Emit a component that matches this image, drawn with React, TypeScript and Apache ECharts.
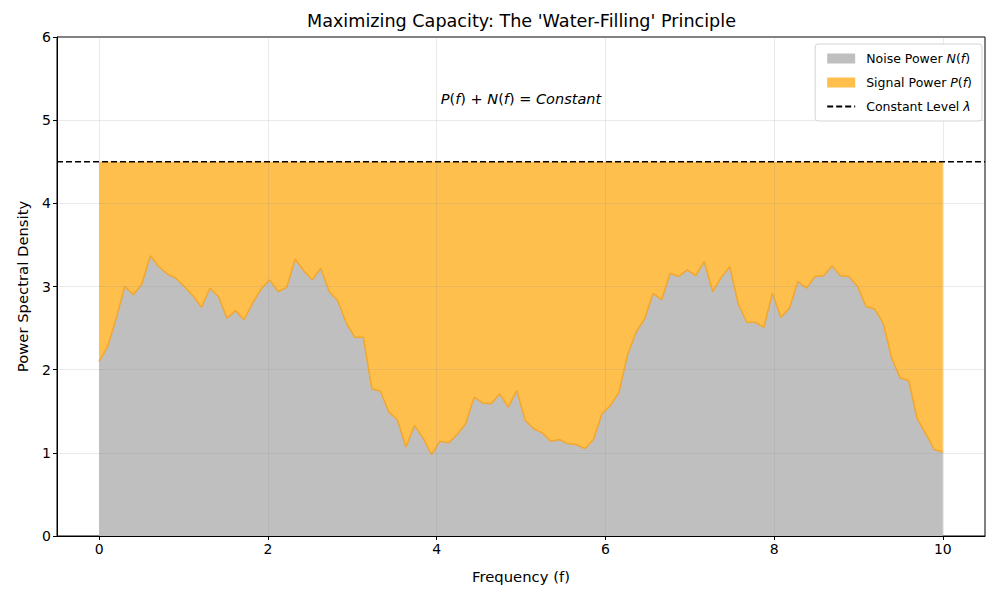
import { useEffect, useRef } from "react";
import * as echarts from "echarts";

// noise power spectral density, sampled at 100 evenly spaced frequencies on [0, 10]
const NOISE = [
  2.1, 2.28, 2.62, 3.0, 2.9, 3.03, 3.37, 3.24, 3.15, 3.1,
  3.0, 2.89, 2.75, 2.98, 2.88, 2.62, 2.71, 2.6, 2.8, 2.97,
  3.08, 2.94, 2.99, 3.33, 3.19, 3.08, 3.22, 2.94, 2.83, 2.56,
  2.39, 2.39, 1.77, 1.74, 1.49, 1.4, 1.07, 1.33, 1.18, 0.98,
  1.14, 1.12, 1.22, 1.35, 1.67, 1.6, 1.59, 1.71, 1.55, 1.75,
  1.39, 1.29, 1.24, 1.14, 1.16, 1.11, 1.1, 1.05, 1.16, 1.47,
  1.57, 1.73, 2.18, 2.45, 2.61, 2.92, 2.84, 3.16, 3.12, 3.2,
  3.13, 3.3, 2.94, 3.11, 3.24, 2.79, 2.57, 2.57, 2.51, 2.92,
  2.63, 2.74, 3.06, 2.98, 3.12, 3.13, 3.25, 3.13, 3.12, 3.0,
  2.76, 2.73, 2.56, 2.14, 1.9, 1.87, 1.41, 1.23, 1.04, 1.01,
];
const F_MAX = 10;
const FREQ = NOISE.map((_, i) => (i * F_MAX) / (NOISE.length - 1));
const LAMBDA = 4.5;
const X_TICKS = [0, 2, 4, 6, 8, 10];
const X_RANGE = [-0.5, 10.5];
const Y_RANGE = [0, 6];

const NOISE_NAME = "Noise Power N(f)";
const SIGNAL_NAME = "Signal Power P(f)";
const LAMBDA_NAME = "Constant Level λ";
const LEGEND_LABELS: Record<string, string> = {
  [NOISE_NAME]: "Noise Power {i|N}({i|f})",
  [SIGNAL_NAME]: "Signal Power {i|P}({i|f})",
  [LAMBDA_NAME]: "Constant Level {i|λ}",
};

const FONT = "'DejaVu Sans', sans-serif";
const GRAY_FILL = "#bfbfbf";
const ORANGE_FILL = "#ffbf4d";
const ORANGE_EDGE = "#f3a72c";
const GRID_LINE = "rgba(150,150,150,0.25)";

export default function App() {
  const ref = useRef<HTMLDivElement>(null);

  useEffect(() => {
    if (!ref.current) return;
    const chart = echarts.init(ref.current, null, { renderer: "svg" });
    const points = FREQ.map((f, i) => [f, NOISE[i]]);

    chart.setOption({
      animation: false,
      backgroundColor: "#fff",
      title: {
        text: "Maximizing Capacity: The 'Water-Filling' Principle",
        left: 307,
        top: 12,
        padding: 0,
        textStyle: { fontSize: 17.6, fontWeight: "normal", color: "#000", fontFamily: FONT },
      },
      grid: {
        left: 57,
        right: 15,
        top: 37,
        bottom: 64,
        show: true,
        borderColor: "#000",
        borderWidth: 1,
        backgroundColor: "transparent",
      },
      legend: {
        orient: "vertical",
        right: 18,
        top: 44,
        padding: [8, 10, 8, 11],
        itemWidth: 28,
        itemHeight: 10,
        itemGap: 11,
        borderColor: "#d4d4d4",
        borderWidth: 1,
        borderRadius: 3,
        backgroundColor: "#fff",
        data: [
          { name: NOISE_NAME, icon: "rect" },
          { name: SIGNAL_NAME, icon: "rect" },
          { name: LAMBDA_NAME, itemStyle: { opacity: 0 } },
        ],
        formatter: (name: string) => LEGEND_LABELS[name] ?? name,
        textStyle: {
          fontSize: 12.5,
          color: "#000",
          fontFamily: FONT,
          padding: [0, 0, 0, 6],
          rich: {
            i: { fontStyle: "italic", fontSize: 12.5, fontFamily: FONT, color: "#000" },
          },
        },
      },
      xAxis: {
        type: "value",
        min: X_RANGE[0],
        max: X_RANGE[1],
        splitNumber: 5,
        z: 3,
        name: "Frequency (f)",
        nameLocation: "middle",
        nameGap: 33,
        nameTextStyle: { fontSize: 14.8, color: "#000", fontFamily: FONT },
        axisLine: { onZero: false, lineStyle: { color: "#000", width: 1 } },
        axisTick: { customValues: X_TICKS, length: 4, lineStyle: { color: "#000" } },
        axisLabel: { customValues: X_TICKS, fontSize: 14, color: "#000", fontFamily: FONT, margin: 6 },
        splitLine: { show: true, lineStyle: { color: GRID_LINE, width: 0.8 } },
      },
      yAxis: {
        type: "value",
        min: Y_RANGE[0],
        max: Y_RANGE[1],
        interval: 1,
        z: 3,
        name: "Power Spectral Density",
        nameLocation: "middle",
        nameGap: 27,
        nameTextStyle: { fontSize: 14.8, color: "#000", fontFamily: FONT },
        axisLine: { show: true, onZero: false, lineStyle: { color: "#000", width: 1 } },
        axisTick: { show: true, length: 4, lineStyle: { color: "#000" } },
        axisLabel: { fontSize: 14, color: "#000", fontFamily: FONT, margin: 6 },
        splitLine: { show: true, lineStyle: { color: GRID_LINE, width: 0.8 } },
      },
      series: [
        {
          name: NOISE_NAME,
          type: "line",
          data: points,
          symbol: "none",
          z: 1,
          itemStyle: { color: GRAY_FILL },
          lineStyle: { width: 0.8, color: "#b0b0b0" },
          areaStyle: { color: GRAY_FILL, opacity: 1 },
        },
        {
          name: SIGNAL_NAME,
          type: "line",
          data: points,
          symbol: "none",
          z: 2,
          itemStyle: { color: ORANGE_FILL },
          lineStyle: { width: 1.5, color: ORANGE_EDGE },
          areaStyle: { color: ORANGE_FILL, opacity: 1, origin: LAMBDA },
        },
        {
          name: LAMBDA_NAME,
          type: "line",
          data: [
            [X_RANGE[0], LAMBDA],
            [X_RANGE[1], LAMBDA],
          ],
          symbol: "none",
          z: 4,
          itemStyle: { color: "#000" },
          lineStyle: { color: "#000", width: 1.5, type: [6, 3] },
          markPoint: {
            symbol: "circle",
            symbolSize: 1,
            itemStyle: { color: "rgba(0,0,0,0)" },
            data: [{ coord: [5, 5.25] }],
            label: {
              show: true,
              position: "inside",
              formatter: "{i|P}{u|(}{i|f}{u|) + }{i|N}{u|(}{i|f}{u|) = }{i|Constant}",
              rich: {
                i: { fontStyle: "italic", fontSize: 14.5, fontFamily: FONT, color: "#000" },
                u: { fontSize: 14.5, fontFamily: FONT, color: "#000" },
              },
            },
          },
        },
      ],
    });

    return () => {
      chart.dispose();
    };
  }, []);

  return (
    <div
      ref={ref}
      style={{ position: "fixed", left: 0, top: 0, width: 1000, height: 600 }}
    />
  );
}
